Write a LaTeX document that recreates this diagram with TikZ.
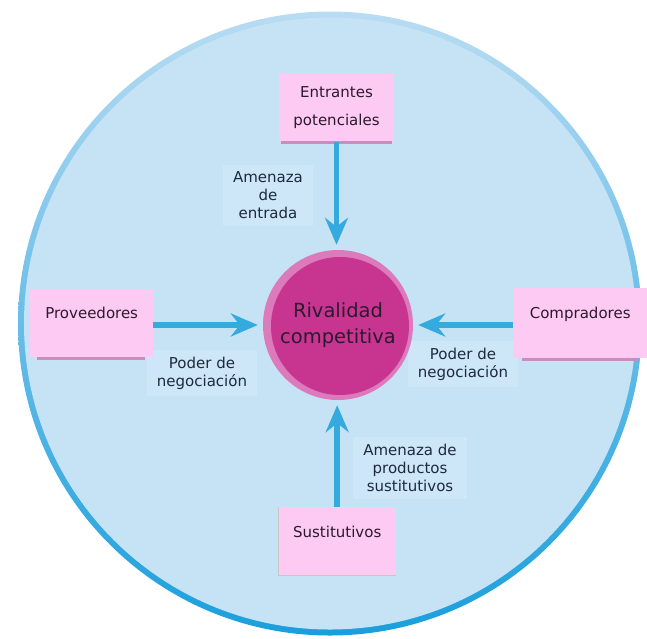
\documentclass[tikz,border=0pt]{standalone}
\usepackage{fontspec}
\setmainfont{DejaVu Sans}
\usetikzlibrary{arrows.meta,calc}
\definecolor{bgblue}{HTML}{C6E2F5}
\definecolor{labelbg}{HTML}{CDE6F8}
\definecolor{ringtop}{HTML}{B8DCF3}
\definecolor{ringbot}{HTML}{1A9FDC}
\definecolor{arrblue}{HTML}{35AADF}
\definecolor{pinkfill}{HTML}{FDCAF4}
\definecolor{pinkshadow}{HTML}{C88FBE}
\definecolor{magmain}{HTML}{C83591}
\definecolor{magrim}{HTML}{DC7ABB}
\definecolor{textdark}{HTML}{2B1A2E}
\definecolor{labeltext}{HTML}{1E2A3C}
\begin{document}
\begin{tikzpicture}[x=1pt,y=-1pt,
 boxnode/.style={fill=pinkfill, inner sep=0pt, font=\fontsize{15}{17}\selectfont, text=textdark},
 lbl/.style={fill=labelbg, align=center, inner xsep=10pt, inner ysep=7pt, font=\fontsize{15}{18}\selectfont, text=labeltext},
 arr/.style={draw=arrblue, line width=5.5pt, -{Stealth[length=27pt,width=23pt,inset=9pt]}, shorten >=5pt},
 shadowline/.style={draw=pinkshadow, line width=3pt}]
\useasboundingbox (0,0) rectangle (647,638);
% outer circle
\shade[top color=ringtop, bottom color=ringbot] (330,323.5) circle[radius=312];
\fill[bgblue] (330,323.5) circle[radius=306];
% labels
\node[lbl] (l1) at (268,195.5) {Amenaza\\de\\entrada};
\node[lbl] (l2) at (202,373) {Poder de\\negociación};
\node[lbl] (l3) at (463,364) {Poder de\\negociación};
\node[lbl] (l4) at (410,468) {Amenaza de\\productos\\sustitutivos};
% boxes
\node[boxnode, minimum width=115pt, minimum height=69pt, align=center, font=\fontsize{15}{28}\selectfont] (entr) at (336.5,107.5) {Entrantes\\potenciales};
\node[boxnode, minimum width=123pt, text height=28pt, text depth=39pt, anchor=north west] (prov) at (30,290) {Proveedores};
\node[boxnode, minimum width=134pt, text height=30pt, text depth=40pt, anchor=north west] (comp) at (513,288) {Compradores};
\node[boxnode, minimum width=118pt, text height=30pt, text depth=38pt, anchor=north west] (sust) at (278,507) {Sustitutivos};
\draw[shadowline] ([xshift=2pt]entr.south west) -- ([xshift=-2pt]entr.south east);
\draw[shadowline] ([xshift=7pt,yshift=-1.5pt]prov.south west) -- ([xshift=-8pt,yshift=-1.5pt]prov.south east);
\draw[shadowline] ([xshift=9pt,yshift=-1.5pt]comp.south west) -- ([xshift=-10pt,yshift=-1.5pt]comp.south east);
\draw[draw=black!22, line width=0.8pt] (sust.north west) -- (sust.south west) -- (sust.south east);
% centre
\node[circle, minimum size=150pt, inner sep=0pt, fill=magrim, align=center,
  font=\fontsize{19.5}{26}\selectfont, text=textdark,
  path picture={\fill[magmain] ([xshift=2pt,yshift=-1pt]path picture bounding box.center) circle[radius=69pt];}]
  (riv) at (338,325) {Rivalidad\\competitiva};
% arrows
\draw[arr] (entr) -- (entr |- riv.north);
\draw[arr] (prov.east |- riv.west) -- (riv.west);
\draw[arr] (comp.west |- riv.east) -- (riv.east);
\draw[arr] (sust) -- (sust |- riv.south);
\end{tikzpicture}
\end{document}
